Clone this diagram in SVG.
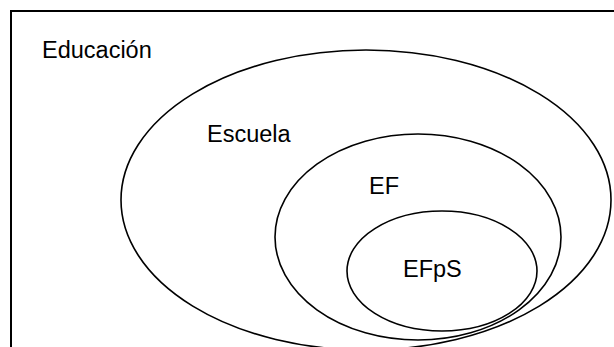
<svg xmlns="http://www.w3.org/2000/svg" width="614" height="347" viewBox="0 0 614 347">
  <style>
    .set { fill: none; stroke: #000; stroke-width: 1.6; }
    .frame { fill: none; stroke: #000; stroke-width: 2; }
    .label { font-family: "Liberation Sans", Arial, sans-serif; font-size: 23.5px; fill: #000; }
  </style>
  <rect width="614" height="347" fill="#fff"/>
  <!-- outer frame: the universe of education -->
  <g id="educacion">
    <path class="frame" d="M11,347 V11 H614"/>
    <text class="label" x="42" y="58">Educación</text>
  </g>
  <g id="escuela">
    <ellipse class="set" cx="366" cy="200" rx="245" ry="150"/>
    <text class="label" x="207" y="142">Escuela</text>
  </g>
  <g id="ef">
    <ellipse class="set" cx="418" cy="237" rx="143" ry="103"/>
    <text class="label" x="369" y="194">EF</text>
  </g>
  <g id="efps">
    <ellipse class="set" cx="442" cy="271" rx="95" ry="60"/>
    <text class="label" x="403" y="277">EFpS</text>
  </g>
  <g id="connectors"></g>
</svg>
